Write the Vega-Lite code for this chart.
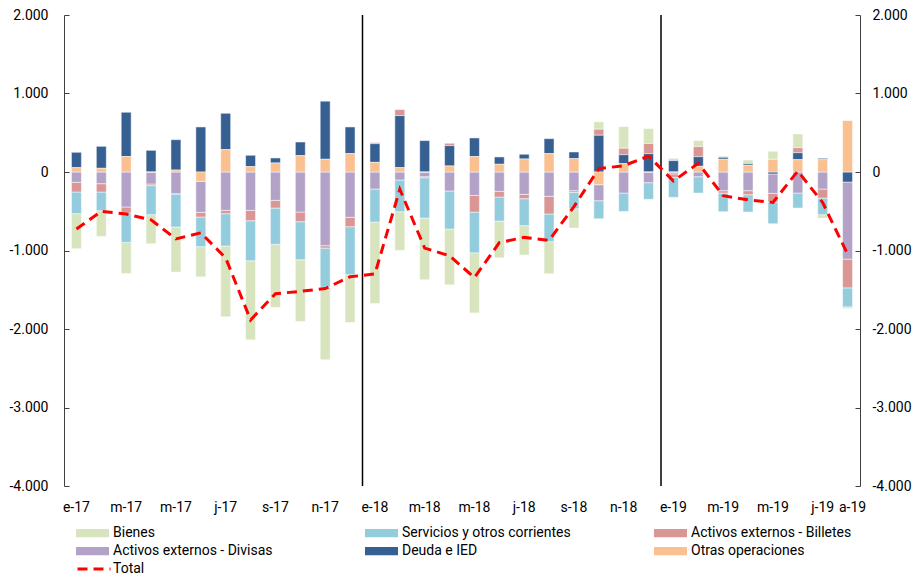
{
  "$schema": "https://vega.github.io/schema/vega-lite/v6.json",
  "width": 796,
  "height": 471,
  "autosize": "none",
  "padding": {"left": 64, "top": 15, "right": 57, "bottom": 92},
  "config": {
    "view": {"stroke": null},
    "font": "Roboto",
    "locale": {"number": {"decimal": ",", "thousands": ".", "grouping": [3], "currency": ["", " €"], "minus": "-"}},
    "axis": {"labelFont": "Roboto", "labelFontSize": 14, "labelColor": "#000000", "title": null, "grid": false}
  },
  "datasets": {
    "meses": [
      {"m": "2017-01", "B": -446, "S": -276, "Bi": -123, "D": -132, "De": 196, "O": 55, "T": -727},
      {"m": "2017-02", "B": -327, "S": -238, "Bi": -106, "D": -149, "De": 280, "O": 47, "T": -500},
      {"m": "2017-03", "B": -395, "S": -374, "Bi": -77, "D": -446, "De": 565, "O": 196, "T": -535},
      {"m": "2017-04", "B": -370, "S": -370, "Bi": -21, "D": -153, "De": 276, "O": 0, "T": -610},
      {"m": "2017-05", "B": -574, "S": -421, "Bi": -4, "D": -276, "De": 387, "O": 25, "T": -852},
      {"m": "2017-06", "B": -383, "S": -378, "Bi": -60, "D": -395, "De": 574, "O": -119, "T": -775},
      {"m": "2017-07", "B": -901, "S": -412, "Bi": -42, "D": -489, "De": 463, "O": 285, "T": -1095},
      {"m": "2017-08", "B": -1007, "S": -510, "Bi": -132, "D": -489, "De": 145, "O": 68, "T": -1885},
      {"m": "2017-09", "B": -803, "S": -463, "Bi": -98, "D": -361, "De": 64, "O": 115, "T": -1550},
      {"m": "2017-10", "B": -786, "S": -485, "Bi": -123, "D": -510, "De": 174, "O": 208, "T": -1521},
      {"m": "2017-11", "B": -926, "S": -497, "Bi": -30, "D": -939, "De": 740, "O": 162, "T": -1485},
      {"m": "2017-12", "B": -608, "S": -612, "Bi": -119, "D": -578, "De": 340, "O": 234, "T": -1335},
      {"m": "2018-01", "B": -1037, "S": -421, "Bi": 13, "D": -217, "De": 238, "O": 123, "T": -1298},
      {"m": "2018-02", "B": -493, "S": -404, "Bi": 77, "D": -102, "De": 663, "O": 55, "T": -220},
      {"m": "2018-03", "B": -786, "S": -514, "Bi": -13, "D": -60, "De": 400, "O": 0, "T": -969},
      {"m": "2018-04", "B": -710, "S": -485, "Bi": 30, "D": -242, "De": 259, "O": 77, "T": -1068},
      {"m": "2018-05", "B": -765, "S": -519, "Bi": -213, "D": -298, "De": 238, "O": 196, "T": -1345},
      {"m": "2018-06", "B": -468, "S": -306, "Bi": -72, "D": -247, "De": 94, "O": 98, "T": -900},
      {"m": "2018-07", "B": -374, "S": -344, "Bi": -55, "D": -285, "De": 60, "O": 166, "T": -833},
      {"m": "2018-08", "B": -408, "S": -353, "Bi": -225, "D": -310, "De": 191, "O": 234, "T": -871},
      {"m": "2018-09", "B": -247, "S": -208, "Bi": -21, "D": -238, "De": 85, "O": 170, "T": -440},
      {"m": "2018-10", "B": 94, "S": -230, "Bi": 77, "D": -204, "De": 468, "O": -162, "T": 42},
      {"m": "2018-11", "B": 276, "S": -234, "Bi": 81, "D": -268, "De": 115, "O": 106, "T": 80},
      {"m": "2018-12", "B": 191, "S": -212, "Bi": 128, "D": -136, "De": 234, "O": 0, "T": 202},
      {"m": "2019-01", "B": 30, "S": -255, "Bi": -43, "D": -25, "De": 145, "O": 0, "T": -115},
      {"m": "2019-02", "B": 77, "S": -208, "Bi": 128, "D": -60, "De": 123, "O": 72, "T": 110},
      {"m": "2019-03", "B": 17, "S": -238, "Bi": -30, "D": -238, "De": 25, "O": 162, "T": -302},
      {"m": "2019-04", "B": 47, "S": -221, "Bi": -51, "D": -238, "De": 21, "O": 85, "T": -355},
      {"m": "2019-05", "B": 102, "S": -276, "Bi": -111, "D": -247, "De": -25, "O": 162, "T": -388},
      {"m": "2019-06", "B": 174, "S": -191, "Bi": 64, "D": -268, "De": 89, "O": 157, "T": 12},
      {"m": "2019-07", "B": -43, "S": -212, "Bi": -115, "D": -217, "De": 17, "O": 157, "T": -390},
      {"m": "2019-08", "B": -21, "S": -242, "Bi": -366, "D": -982, "De": -128, "O": 655, "T": -1045}
    ],
    "cats": [
      {"k": "O", "cat": "Otras operaciones", "ord": 1},
      {"k": "De", "cat": "Deuda e IED", "ord": 2},
      {"k": "D", "cat": "Activos externos - Divisas", "ord": 3},
      {"k": "Bi", "cat": "Activos externos - Billetes", "ord": 4},
      {"k": "S", "cat": "Servicios y otros corrientes", "ord": 5},
      {"k": "B", "cat": "Bienes", "ord": 6}
    ]
  },
  "layer": [
    {
      "data": {"name": "meses"},
      "transform": [
        {"fold": ["B", "S", "Bi", "D", "De", "O"], "as": ["k", "v"]},
        {"lookup": "k", "from": {"data": {"name": "cats"}, "key": "k", "fields": ["cat", "ord"]}}
      ],
      "mark": {"type": "bar", "stroke": "#ffffff", "strokeWidth": 0.5},
      "encoding": {
        "x": {
          "field": "m", "type": "ordinal",
          "scale": {"paddingInner": 0.6, "paddingOuter": 0.3},
          "axis": {
            "orient": "bottom", "domain": false, "ticks": false, "labelPadding": 14, "labelAngle": 0,
            "labelOverlap": false,
            "labelOffset": {"condition": {"test": "datum.value == '2019-08'", "value": 5}, "value": 0},
            "labelExpr": "indexof(['2017-01','2017-03','2017-05','2017-07','2017-09','2017-11','2018-01','2018-03','2018-05','2018-07','2018-09','2018-11','2019-01','2019-03','2019-05','2019-07','2019-08'], datum.value) < 0 ? '' : (slice('efmamjjasond', toNumber(slice(datum.value, 5)) - 1, toNumber(slice(datum.value, 5))) + '-' + slice(datum.value, 2, 4))"
          }
        },
        "y": {
          "field": "v", "type": "quantitative", "stack": "zero",
          "scale": {"domain": [-4000, 2000], "nice": false},
          "axis": {
            "orient": "left", "values": [-4000, -3000, -2000, -1000, 0, 1000, 2000], "format": ",.0f",
            "domain": true, "domainColor": "#404040", "domainWidth": 1,
            "ticks": true, "tickSize": -5, "tickColor": "#404040", "labelPadding": 21
          }
        },
        "color": {
          "field": "cat", "type": "nominal",
          "scale": {
            "domain": ["Bienes", "Servicios y otros corrientes", "Activos externos - Billetes", "Activos externos - Divisas", "Deuda e IED", "Otras operaciones"],
            "range": ["#d7e4bd", "#93cddd", "#d99694", "#b3a2c7", "#376092", "#fac090"]
          },
          "legend": {
            "orient": "none", "legendX": 12, "legendY": 509,
            "direction": "horizontal",
            "columns": 3, "title": null,
            "symbolType": "M-1,-0.25H1V0.25H-1Z", "symbolSize": 1089,
            "clipHeight": 18, "rowPadding": 0, "columnPadding": 83, "gridAlign": "all",
            "labelFont": "Roboto", "labelFontSize": 14, "labelColor": "#000000", "labelOffset": 4, "labelLimit": 300,
            "padding": 0, "symbolStrokeWidth": 0, "symbolOpacity": 1
          }
        },
        "order": {"field": "ord", "type": "quantitative"}
      }
    },
    {
      "mark": {"type": "rule", "color": "#000000", "strokeWidth": 1.5},
      "encoding": {"y": {"datum": 0, "type": "quantitative", "axis": null}}
    },
    {
      "data": {"values": [{"m": "2018-01"}, {"m": "2019-01"}]},
      "mark": {"type": "rule", "color": "#000000", "strokeWidth": 1.5},
      "encoding": {"x": {"field": "m", "type": "ordinal", "bandPosition": -0.75}}
    },
    {
      "data": {"name": "meses"},
      "transform": [{"fold": ["T"], "as": ["serie", "tot"]}],
      "mark": {"type": "line", "strokeWidth": 3, "color": "#ff0000"},
      "encoding": {
        "x": {"field": "m", "type": "ordinal"},
        "y": {
          "field": "tot", "type": "quantitative",
          "axis": {
            "orient": "right", "values": [-4000, -3000, -2000, -1000, 0, 1000, 2000], "format": ",.0f",
            "domain": true, "domainColor": "#404040", "domainWidth": 1,
            "ticks": true, "tickSize": -5, "tickColor": "#404040", "labelPadding": 17
          }
        },
        "strokeDash": {
          "field": "serie", "type": "nominal",
          "scale": {"domain": ["T"], "range": [[10, 6]]},
          "legend": {
            "orient": "none", "legendX": 12, "legendY": 545, "title": null,
            "labelExpr": "'Total'",
            "symbolType": "stroke", "symbolSize": 1089, "symbolStrokeWidth": 3, "symbolStrokeColor": "#ff0000",
            "clipHeight": 18, "padding": 0,
            "labelFont": "Roboto", "labelFontSize": 14, "labelColor": "#000000", "labelOffset": 1
          }
        }
      }
    },
    {
      "mark": {"type": "text", "align": "left", "baseline": "middle", "dx": 12, "font": "Roboto", "fontWeight": "bold", "fontSize": 14, "color": "#000000"},
      "encoding": {
        "x": {"datum": "2017-01", "type": "ordinal", "bandPosition": 0},
        "y": {"datum": 1669, "type": "quantitative", "axis": null},
        "text": {"value": "VENTAS"}
      }
    },
    {
      "mark": {"type": "text", "align": "left", "baseline": "middle", "dx": 12, "font": "Roboto", "fontWeight": "bold", "fontSize": 14, "color": "#000000"},
      "encoding": {
        "x": {"datum": "2017-01", "type": "ordinal", "bandPosition": 0},
        "y": {"datum": -3434, "type": "quantitative", "axis": null},
        "text": {"value": "COMPRAS"}
      }
    }
  ],
  "resolve": {"scale": {"y": "shared"}, "axis": {"y": "independent"}}
}
